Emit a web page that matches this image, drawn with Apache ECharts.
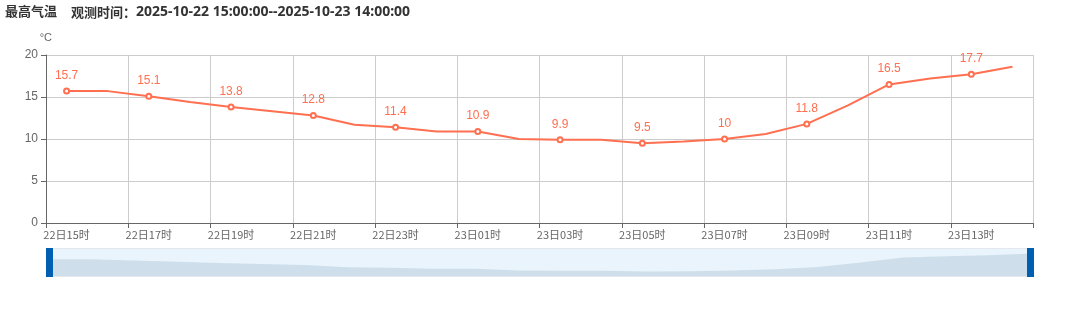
<!DOCTYPE html>
<html>
<head>
<meta charset="utf-8">
<script src="https://cdn.jsdelivr.net/npm/echarts@6/dist/echarts.min.js"></script>
<style>
html,body{margin:0;padding:0;background:#fff;}
#chart{width:1080px;height:311px;}
</style>
</head>
<body>
<div id="chart"></div>
<script>
var titleText = '最高气温';
var subLabel = '观测时间：';
var subTime = '2025-10-22 15:00:00--2025-10-23 14:00:00';
var unitName = '°C';
var categories = ['22日15时','22日16时','22日17时','22日18时','22日19时','22日20时','22日21时','22日22时','22日23时','23日00时','23日01时','23日02时','23日03时','23日04时','23日05时','23日06时','23日07时','23日08时','23日09时','23日10时','23日11时','23日12时','23日13时','23日14时'];
var maxTemp = [15.7,15.7,15.1,14.4,13.8,13.3,12.8,11.7,11.4,10.9,10.9,10.0,9.9,9.9,9.5,9.7,10,10.6,11.8,14.0,16.5,17.2,17.7,18.6];

var chart = echarts.init(document.getElementById('chart'), null, {renderer:'canvas'});
var lineColor = '#ff6f50';
chart.setOption({
  animation: false,
  title: [{
    text: titleText,
    left: 0, top: 0,
    textStyle: {fontSize: 13, fontWeight: 'bold', color: '#333', fontFamily: '"Noto Sans CJK SC", sans-serif'}
  }, {
    text: '{a|' + subLabel + '}{b|' + subTime + '}',
    left: 66, top: 0,
    textStyle: {
      rich: {
        a: {fontSize: 13, fontWeight: 'bold', color: '#333', fontFamily: '"Noto Sans CJK SC", sans-serif'},
        b: {fontSize: 14, fontWeight: 'bold', color: '#333', fontFamily: '"Noto Sans", "Open Sans", sans-serif'}
      }
    }
  }],
  grid: {left: 46, right: 47, top: 55, bottom: 88, containLabel: false},
  xAxis: {
    type: 'category',
    data: categories,
    boundaryGap: true,
    axisLine: {lineStyle: {color: '#666'}},
    axisTick: {show: true, interval: 1, lineStyle: {color: '#666'}},
    axisLabel: {interval: 1, color: '#666', fontSize: 11, margin: 6, fontFamily: '"Noto Sans CJK SC", sans-serif'},
    splitLine: {show: true, interval: 1, lineStyle: {color: '#ccc'}}
  },
  yAxis: {
    type: 'value',
    name: unitName,
    nameGap: 12,
    nameTextStyle: {color: '#666', fontSize: 11, align: 'right', padding: [0, -6, 0, 0]},
    min: 0, max: 20, interval: 5,
    axisLine: {show: true, lineStyle: {color: '#666'}},
    axisTick: {show: true, lineStyle: {color: '#666'}},
    axisLabel: {color: '#666', fontSize: 12, margin: 8},
    splitLine: {show: true, lineStyle: {color: '#ccc'}}
  },
  dataZoom: [{
    type: 'slider',
    xAxisIndex: 0,
    start: 0, end: 100,
    left: 46, right: 51,
    bottom: 34, height: 29,
    showDetail: false,
    brushSelect: false,
    moveHandleSize: 0,
    borderColor: '#e4e8ec',
    backgroundColor: 'rgba(0,0,0,0)',
    fillerColor: 'rgba(200,228,248,0.4)',
    handleIcon: 'path://M0,0 L24,0 L24,100 L0,100 Z',
    handleSize: '100%',
    handleStyle: {color: '#005fb1', borderColor: '#005fb1', borderWidth: 0},
    emphasis: {handleStyle: {color: '#005fb1'}},
    dataBackground: {
      lineStyle: {opacity: 0},
      areaStyle: {color: '#d3dde3', opacity: 1}
    },
    selectedDataBackground: {
      lineStyle: {opacity: 0},
      areaStyle: {color: '#d3dde3', opacity: 1}
    }
  }],
  series: [{
    type: 'line',
    data: maxTemp,
    smooth: false,
    symbol: 'emptyCircle',
    symbolSize: 5,
    showAllSymbol: false,
    showSymbol: true,
    itemStyle: {color: lineColor, borderWidth: 1},
    lineStyle: {color: lineColor, width: 2},
    label: {
      show: true,
      position: 'top',
      color: lineColor,
      fontSize: 12,
      distance: 6,
      formatter: function(p){ return p.dataIndex % 2 === 0 ? p.value : ''; }
    }
  }]
});
</script>
</body>
</html>
